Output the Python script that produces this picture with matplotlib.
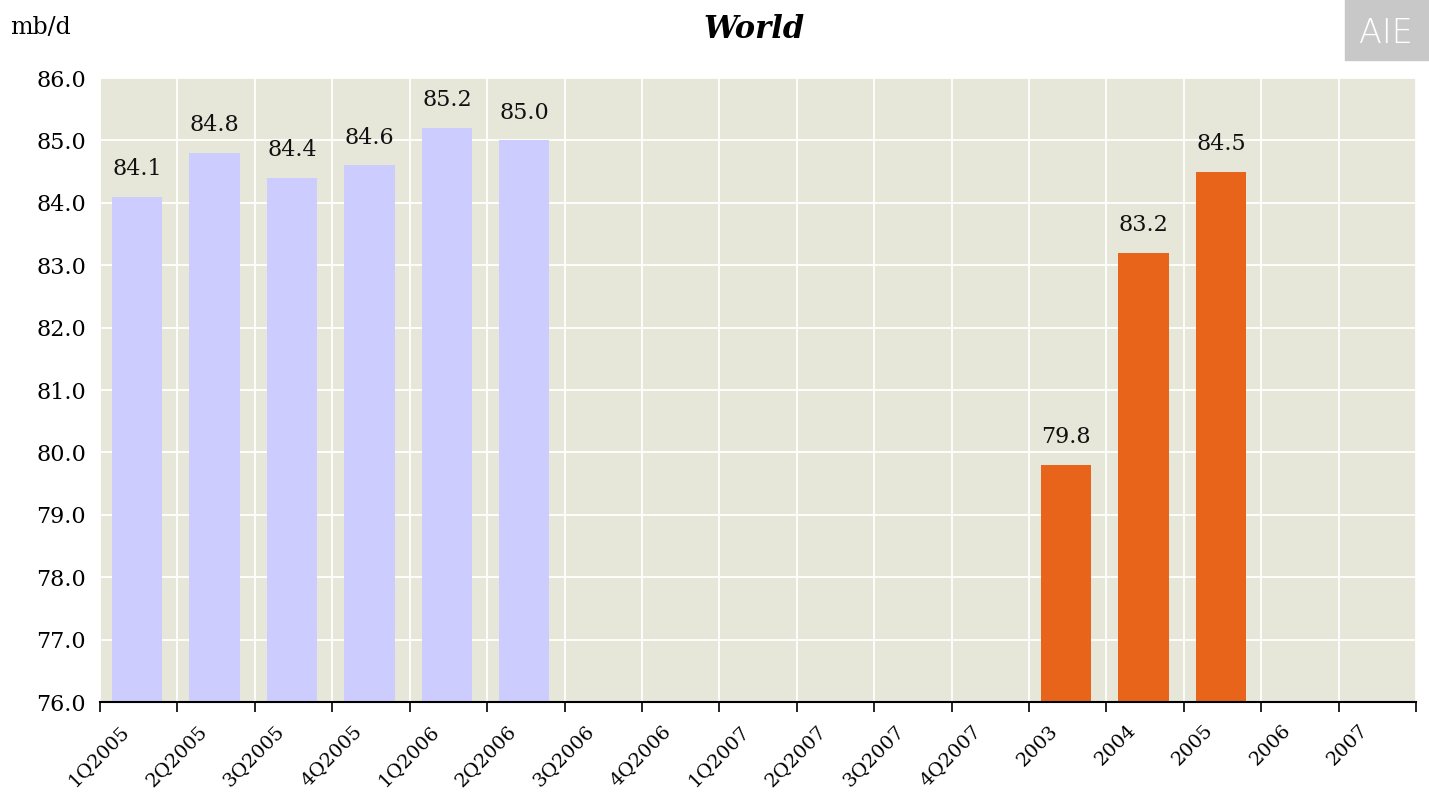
import numpy as np
import matplotlib
matplotlib.use("Agg")
import matplotlib.pyplot as plt
from matplotlib.patches import Rectangle

# categories along the x axis
categories = ["1Q2005", "2Q2005", "3Q2005", "4Q2005", "1Q2006", "2Q2006",
              "3Q2006", "4Q2006", "1Q2007", "2Q2007", "3Q2007", "4Q2007",
              "2003", "2004", "2005", "2006", "2007"]
# quarterly demand (mb/d), only first six have data
quarterly = [84.1, 84.8, 84.4, 84.6, 85.2, 85.0]
# yearly demand (mb/d)
yearly = [79.8, 83.2, 84.5]
yearly_start = 12

plt.rcParams['font.family'] = ['DejaVu Serif']

fig = plt.figure(figsize=(14.29, 7.96), dpi=100)
ax = fig.add_axes([0.070, 0.118, 0.921, 0.784])
ax.set_facecolor("#E6E6D9")

base = 76.0
xq = np.arange(len(quarterly))
xy = np.arange(len(yearly)) + yearly_start
ax.bar(xq - 0.02, np.array(quarterly) - base, bottom=base, width=0.65,
       color="#CCCCFF", zorder=3)
ax.bar(xy - 0.02, np.array(yearly) - base, bottom=base, width=0.65,
       color="#E8641A", zorder=3)

for x, v in zip(list(xq) + list(xy), quarterly + yearly):
    ax.text(x - 0.02, v + 0.27, f"{v:.1f}", ha="center", va="bottom",
            fontsize=16, color="#111111", zorder=4)

ax.set_xlim(-0.5, len(categories) - 0.5)
ax.set_ylim(76, 86)
ax.set_yticks(np.arange(76, 86.5, 1.0))
ax.set_yticklabels([f"{v:.1f}" for v in np.arange(76, 86.5, 1.0)], fontsize=16)

# ticks on the category boundaries, labels slightly right of them
ax.set_xticks(np.arange(len(categories) + 1) - 0.5)
ax.set_xticklabels([])
ax.set_xticks(np.arange(len(categories)) - 0.24, minor=True)
ax.set_xticklabels(categories, minor=True, rotation=45, ha="right",
                   rotation_mode="anchor", fontsize=14)
ax.tick_params(axis="x", which="major", length=7, width=1.2, color="black")
ax.tick_params(axis="x", which="minor", length=0, pad=14)
ax.tick_params(axis="y", length=0, pad=10)

ax.grid(True, color="white", linewidth=1.3, zorder=0)
ax.set_axisbelow(True)
for s in ["top", "right", "left"]:
    ax.spines[s].set_visible(False)
ax.spines["bottom"].set_linewidth(1.5)
ax.spines["bottom"].set_zorder(5)

fig.text(0.007, 0.965, "mb/d", fontsize=17, ha="left", va="center")
fig.text(0.528, 0.963, "World", fontsize=22, ha="center", va="center",
         fontweight="bold", fontstyle="italic")

# grey logo box at top right
fig.patches.append(Rectangle((0.941, 0.925), 0.059, 0.075, transform=fig.transFigure,
                             color="#C8C8C8", zorder=1))
fig.text(0.970, 0.958, "AIE", fontsize=24, color="white", ha="center",
         va="center", family="DejaVu Sans", fontweight="light")

fig.savefig("out.png", dpi=100)
